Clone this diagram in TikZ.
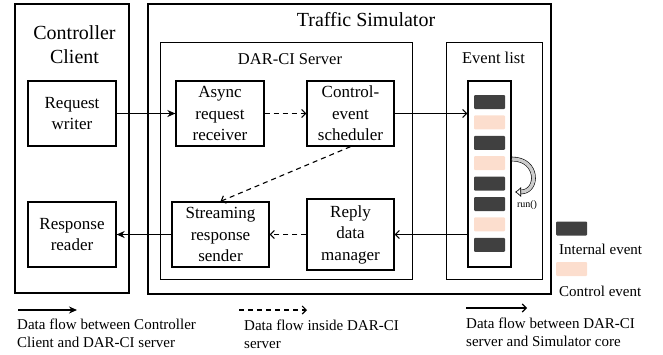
\documentclass[tikz,border=0pt]{standalone}
\usepackage{fontspec}
\setmainfont{Liberation Serif}
\usetikzlibrary{arrows.meta}
\definecolor{evdark}{RGB}{64,64,64}
\definecolor{evpeach}{RGB}{252,222,206}

\begin{document}
\begin{tikzpicture}[x=1pt,y=-1pt,
  outerbox/.style={draw,line width=2pt,inner sep=0pt},
  innerbox/.style={draw,line width=1pt,inner sep=0pt},
  block/.style={draw,line width=1.3pt,inner sep=0pt,align=center,
    font=\fontsize{17}{21.5}\selectfont},
  bar/.style={inner sep=0pt,minimum width=31pt,minimum height=14pt,rounded corners=1pt},
  clientflow/.style={line width=1.3pt,-{Stealth[length=8pt,width=7pt]}},
  serverflow/.style={line width=1.1pt,dash pattern=on 5pt off 4pt,
    -{Straight Barb[length=4pt,width=8pt]}},
  coreflow/.style={line width=1.1pt,-{Straight Barb[length=4pt,width=8pt]}},
  legendtext/.style={inner sep=0pt,anchor=west,align=left,
    font=\fontsize{15}{18}\selectfont}]
\useasboundingbox (0,0) rectangle (663,354);

% containers
\node[outerbox,minimum width=114pt,minimum height=289pt] (client) at (72,148.5) {};
\node[outerbox,minimum width=403pt,minimum height=290pt] (sim) at (349.5,149) {};
\node[innerbox,minimum width=252pt,minimum height=237pt] (server) at (286,160.5) {};
\node[innerbox,minimum width=96pt,minimum height=237pt] (evlist) at (494,160.5) {};
\node[innerbox,line width=1.3pt,minimum width=43pt,minimum height=186pt] (queue) at (489.5,174) {};

\node[align=center,font=\fontsize{20}{24}\selectfont] (clienttitle) at (74.5,45) {Controller\\Client};
\node[font=\fontsize{20}{24}\selectfont] (simtitle) at (366,20) {Traffic Simulator};
\node[font=\fontsize{16.5}{20}\selectfont] (servertitle) at (290,59) {DAR-CI Server};
\node[font=\fontsize{16.5}{20}\selectfont] (evtitle) at (493.5,58) {Event list};

% blocks
\node[block,minimum width=88pt,minimum height=65pt] (writer) at (72,113.5) {Request\\writer};
\node[block,minimum width=88pt,minimum height=65pt] (receiver) at (220,113.5) {Async\\request\\receiver};
\node[block,minimum width=87pt,minimum height=65pt] (scheduler) at (350.5,113.5) {Control-\\event\\scheduler};
\node[block,minimum width=88pt,minimum height=65pt] (reader) at (72,234.5) {Response\\reader};
\node[block,minimum width=97pt,minimum height=65pt] (sender) at (220.5,234.5) {Streaming\\response\\sender};
\node[block,minimum width=87pt,minimum height=71pt] (manager) at (350.5,234.5) {Reply\\data\\manager};

% events in the list
\foreach \col [count=\i from 0] in {evdark,evpeach,evdark,evpeach,evdark,evdark,evpeach,evdark}
  \node[bar,fill=\col] (ev\i) at (489.5,102+20.4*\i) {};

% run() loop
\coordinate (runA) at (512,159);
\coordinate (runB) at (515,192);
\draw[line width=0.6pt,double=gray!40,double distance=3.4pt,
  -{Latex[open,length=6pt,width=10pt]}] (runA) .. controls (539,159) and (539,192) .. (runB);
\node[font=\fontsize{10}{12}\selectfont,inner sep=0pt] (runlabel) at (527,205) {run()};

% flows
\draw[clientflow] (writer) to (receiver);
\draw[serverflow] (receiver) to (scheduler);
\draw[coreflow] (scheduler.east) to (scheduler.east -| queue.west);
\draw[serverflow] (scheduler.south) to (sender.north);
\draw[coreflow] (queue.west |- manager.east) to (manager.east);
\draw[serverflow] (manager) to (sender);
\draw[clientflow] (sender) to (reader);

% legend
\coordinate (lgA1) at (18,310);
\coordinate (lgA2) at (77,310);
\coordinate (lgB1) at (239,310);
\coordinate (lgB2) at (307,310);
\coordinate (lgC1) at (466,308);
\coordinate (lgC2) at (527,308);
\draw[clientflow] (lgA1) to (lgA2);
\draw[serverflow] (lgB1) to (lgB2);
\draw[coreflow] (lgC1) to (lgC2);
\node[legendtext] (lgAtext) at (17,333) {Data flow between Controller\\Client and DAR-CI server};
\node[legendtext] (lgBtext) at (244,334) {Data flow inside DAR-CI\\server};
\node[legendtext] (lgCtext) at (466,332.5) {Data flow between DAR-CI\\server and Simulator core};

\node[bar,fill=evdark] (keydark) at (571.5,228.5) {};
\node[legendtext] (keydarktext) at (559,249) {Internal event};
\node[bar,fill=evpeach] (keypeach) at (571.5,269) {};
\node[legendtext] (keypeachtext) at (559,291) {Control event};
\end{tikzpicture}
\end{document}
